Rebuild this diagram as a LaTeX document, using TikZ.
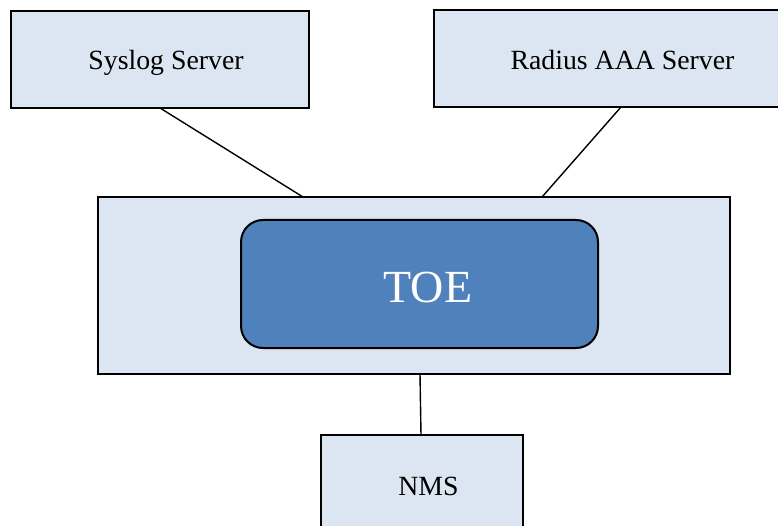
\documentclass[tikz,border=0pt]{standalone}
\usepackage{fontspec}
\setmainfont{Liberation Serif}
\begin{document}
\begin{tikzpicture}[x=1pt,y=-1pt,
  lbox/.style={draw=black,line width=2pt,fill=boxfill},
  lbl/.style={anchor=base,inner sep=0pt,font=\fontsize{27.8}{32}\selectfont},
  conn/.style={draw=black,line width=1.4pt}]
\definecolor{boxfill}{HTML}{DCE6F2}
\definecolor{toefill}{HTML}{4F81BD}
\useasboundingbox (0,0) rectangle (778,526);
\draw[lbox] (11,11) rectangle (309,108);
\node[lbl] (syslog) at (166,70) {Syslog Server};
\coordinate (sysb) at (160,108);
\draw[lbox] (434,10) rectangle (800,107);
\node[lbl] (radius) at (622.5,70) {Radius AAA Server};
\coordinate (radb) at (621,107);
\draw[lbox] (98,197) rectangle (730,374);
\coordinate (outs) at (303,197);
\coordinate (outr) at (542,197);
\coordinate (outb) at (420,374);
\draw[line width=2pt,fill=toefill,rounded corners=22pt] (241,220) rectangle (598,348);
\node[lbl,text=white,font=\fontsize{46}{50}\selectfont] (toe) at (428,302) {TOE};
\draw[lbox] (321,435) rectangle (523,540);
\node[lbl] (nms) at (428.5,495) {NMS};
\coordinate (nmst) at (421,435);
\draw[conn] (sysb) -- (outs);
\draw[conn] (radb) -- (outr);
\draw[conn] (outb) -- (nmst);
\end{tikzpicture}
\end{document}
